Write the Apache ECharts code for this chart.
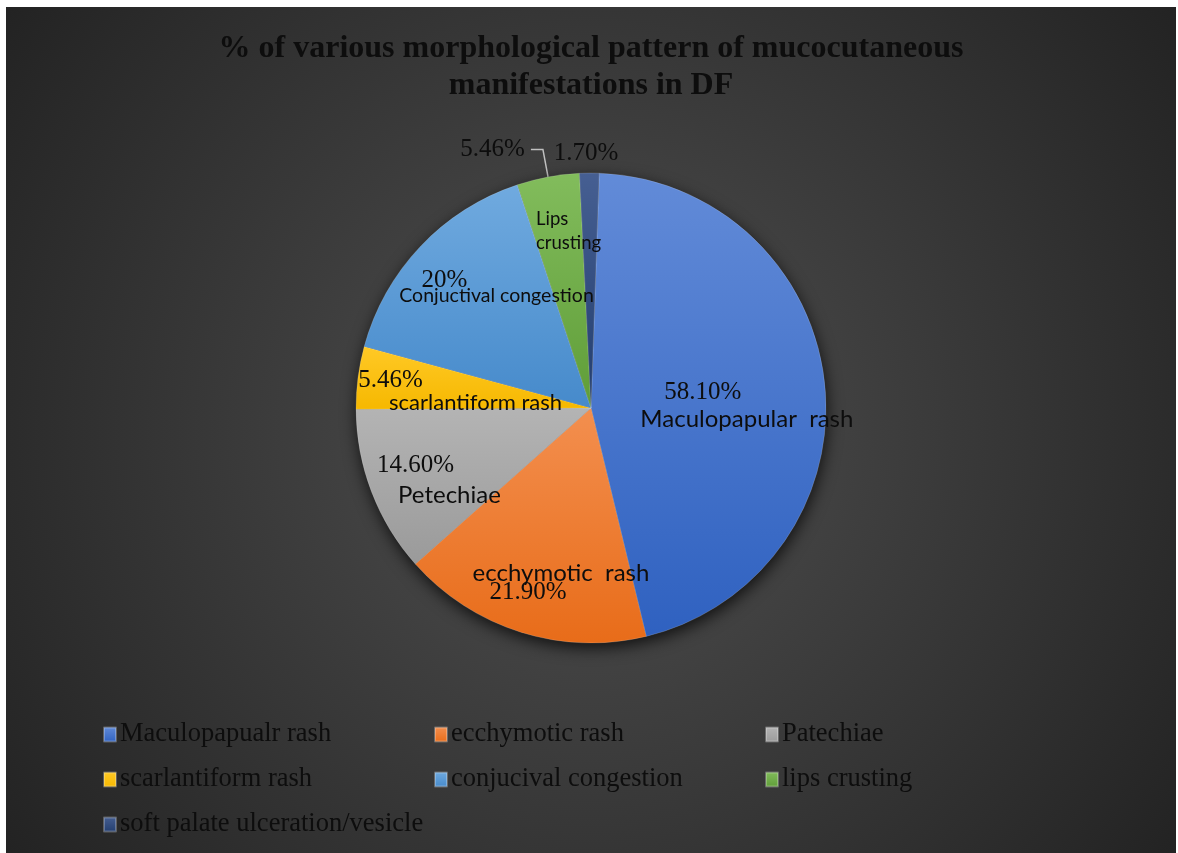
<!DOCTYPE html>
<html><head><meta charset="utf-8">
<script src="https://cdn.jsdelivr.net/npm/echarts@6/dist/echarts.min.js"></script>
<style>
html,body{margin:0;padding:0;background:#fff;width:1178px;height:853px;overflow:hidden}
#c{position:absolute;left:6px;top:7px;width:1170px;height:846px}
</style>
</head><body><div id="c"></div>
<script>
// ---- data ----
const categories = ['Maculopapualr rash','ecchymotic rash','Patechiae','scarlantiform rash','conjucival congestion','lips crusting','soft palate ulceration/vesicle'];
const values = [58.1, 21.9, 14.6, 5.46, 20, 5.46, 1.7];
const percentLabels = ['58.10%','21.90%','14.60%','5.46%','20%','5.46%','1.70%'];
const sliceLabels = ['Maculopapular  rash','ecchymotic  rash','Petechiae','scarlantiform rash','Conjuctival congestion','Lips\ncrusting',''];
const titleText = '% of various morphological pattern of mucocutaneous\nmanifestations in DF';

// ---- styles ----
const topColors = ['#628bd8','#f38f4f','#b4b4b4','#ffc926','#70aadf','#82bc5c','#465f92'];
const bottomColors = ['#2f61c0','#e86c19','#9a9a9a','#f6b800','#468acb','#5f9d38','#223d6e'];
const pctShift = [[-8,-3],[-27,69],[-63,14],[-81,-12],[-59,-45],null,[-4,-134]];
const nameShift = [[36,23],[6,50],[-29,44],[4,10],[-7,-29],[-33,-59],null];
const nameSizes = [24,24,24,22,19.5,18.5,18];

const grad = i => new echarts.graphic.LinearGradient(0,0,0,1,[{offset:0,color:topColors[i]},{offset:1,color:bottomColors[i]}]);
const center = [585, 401];
const radius = 235;

const pctData = values.map((v,i) => {
  const d = {value:v, name:categories[i], itemStyle:{color:grad(i)}};
  if (i === 5) {
    d.label = {position:'outside', distanceToLabelLine:6};
    d.labelLine = {show:true, length:28, length2:12, lineStyle:{color:'#c0c0c0', width:1.5}};
  }
  return d;
});
const nameData = values.map((v,i) => ({
  value:v, name:categories[i],
  label:{show: sliceLabels[i] !== '', fontSize:nameSizes[i], lineHeight: i===5 ? 24 : nameSizes[i]*1.2}
}));

const chart = echarts.init(document.getElementById('c'));
chart.setOption({
  backgroundColor:{type:'radial', x:0.5, y:0.5, r:0.85, colorStops:[{offset:0,color:'#505050'},{offset:1,color:'#232323'}]},
  animation:false,
  title:{
    text:titleText, left:'center', top:23, padding:0,
    textStyle:{fontFamily:'Liberation Serif', fontWeight:'bold', fontSize:32, lineHeight:37, color:'#0d0d0d'}
  },
  legend:{
    data:categories, left:97, top:705, width:1000, orient:'horizontal',
    itemGap:0, itemWidth:12, itemHeight:14, icon:'rect', padding:0,
    textStyle:{fontFamily:'Liberation Serif', fontSize:26.5, color:'#0d0d0d', width:314, lineHeight:45, padding:[0,0,0,-1]}
  },
  series:[
    {
      type:'pie', silent:true, center:center, radius:radius, startAngle:88,
      data:[{value:1, name:'_shadow'}], label:{show:false}, labelLine:{show:false},
      itemStyle:{color:'#3a3a3a', shadowBlur:16, shadowColor:'rgba(0,0,0,0.75)', shadowOffsetX:1, shadowOffsetY:5},
      emphasis:{disabled:true}, legendHoverLink:false
    },
    {
      type:'pie', center:center, radius:radius, startAngle:88, clockwise:true,
      avoidLabelOverlap:false, emphasis:{disabled:true},
      itemStyle:{borderColor:'rgba(255,255,255,0.25)', borderWidth:0.6},
      label:{show:true, position:'inside', fontFamily:'Liberation Serif', fontSize:25, color:'#0d0d0d',
        formatter:p => percentLabels[p.dataIndex]},
      labelLine:{show:false},
      labelLayout:p => {
        const s = pctShift[p.dataIndex];
        if (!s) return {};
        const r = p.labelRect;
        return {x:r.x + r.width/2 + s[0], y:r.y + r.height/2 + s[1]};
      },
      data:pctData
    },
    {
      type:'pie', silent:true, center:center, radius:radius, startAngle:88, clockwise:true,
      avoidLabelOverlap:false, emphasis:{disabled:true}, legendHoverLink:false,
      itemStyle:{color:'rgba(0,0,0,0)'},
      label:{show:true, position:'inside', fontFamily:'Lato', color:'#0d0d0d',
        formatter:p => sliceLabels[p.dataIndex]},
      labelLine:{show:false},
      labelLayout:p => {
        const s = nameShift[p.dataIndex];
        if (!s) return {};
        const r = p.labelRect;
        const o = {x:r.x + r.width/2 + s[0], y:r.y + r.height/2 + s[1]};
        if (p.dataIndex === 5) { o.align = 'left'; }
        return o;
      },
      data:nameData
    }
  ]
});
</script>
</body></html>
